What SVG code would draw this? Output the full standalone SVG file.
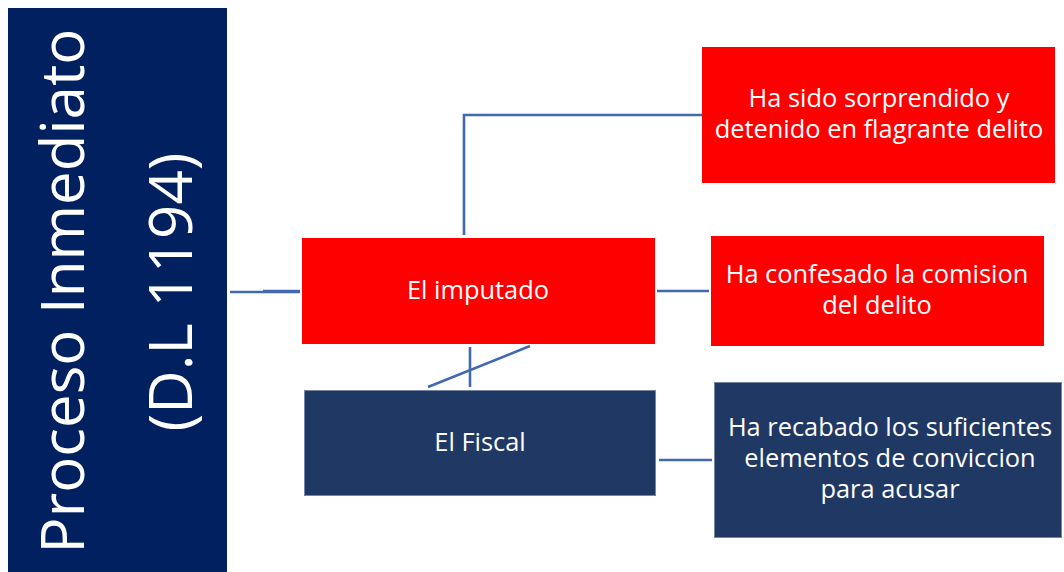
<svg xmlns="http://www.w3.org/2000/svg" width="1064" height="572" viewBox="0 0 1064 572">
<style>
.red{fill:#FF0000}
.navy{fill:#203864;stroke:#7485A6;stroke-width:1}
.panel{fill:#002060}
.t{font-family:"Open Sans","Liberation Sans",sans-serif;fill:#FFFFFF;text-anchor:middle;font-size:25.4px}
.big{font-family:"Open Sans","Liberation Sans",sans-serif;fill:#FFFFFF;text-anchor:middle;font-size:60px}
.c{stroke:#4169B0;stroke-width:2.6;fill:none}
</style>
<rect width="1064" height="572" fill="#FFFFFF"/>
<g id="connectors">
<path class="c" d="M230 292 H300"/>
<path class="c" d="M263 291 H300"/>
<path class="c" d="M464 235 V115 H702"/>
<path class="c" d="M657 291 H709"/>
<path class="c" d="M659 460 H712"/>
<path class="c" d="M470 347 V387"/>
<path class="c" d="M530 346 L428 387"/>
</g>
<g id="proceso">
<rect class="panel" x="8" y="8" width="219" height="564"/>
<text class="big" transform="translate(84,291) rotate(-90)">Proceso Inmediato</text>
<text class="big" transform="translate(192,292) rotate(-90)">(D.L 1194)</text>
</g>
<g id="imputado">
<rect class="red" x="302" y="238" width="353" height="106"/>
<text class="t" x="478" y="299">El imputado</text>
</g>
<g id="fiscal">
<rect class="navy" x="304.5" y="390.5" width="351" height="105"/>
<text class="t" x="480" y="451">El Fiscal</text>
</g>
<g id="flagrante">
<rect class="red" x="702" y="47" width="353" height="136"/>
<text class="t" x="879" y="107">Ha sido sorprendido y</text>
<text class="t" x="879" y="138">detenido en flagrante delito</text>
</g>
<g id="confesado">
<rect class="red" x="711" y="236" width="333" height="110"/>
<text class="t" x="877" y="283">Ha confesado la comision</text>
<text class="t" x="877" y="314">del delito</text>
</g>
<g id="recabado">
<rect class="navy" x="714.5" y="382.5" width="347" height="155"/>
<text class="t" x="890" y="436">Ha recabado los suficientes</text>
<text class="t" x="890" y="467">elementos de conviccion</text>
<text class="t" x="890" y="498">para acusar</text>
</g>
</svg>
